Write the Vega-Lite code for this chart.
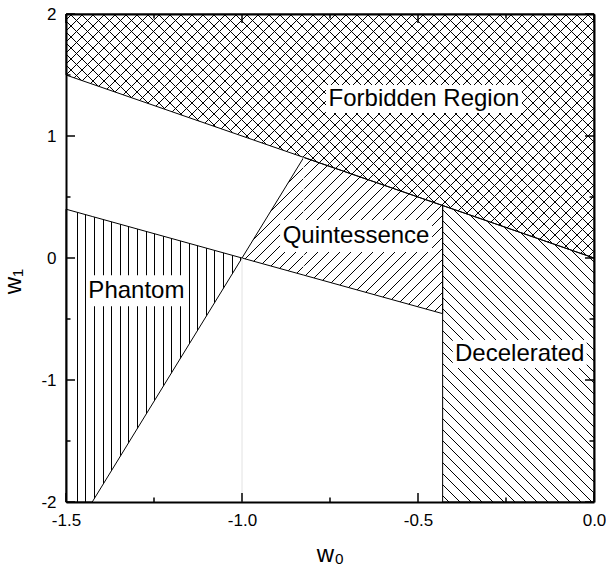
{"$schema":"https://vega.github.io/schema/vega-lite/v6.json","width":528,"height":488,"autosize":{"type":"none"},"padding":{"left":66,"top":14,"right":12,"bottom":78},"background":"white",
"datasets":{
"regions":[
{"region":"Forbidden","x":-1.5,"y":2,"y2":1.5},{"region":"Forbidden","x":0,"y":2,"y2":0},
{"region":"Quintessence","x":-1,"y":0,"y2":0},{"region":"Quintessence","x":-0.8246,"y":0.8246,"y2":-0.14032},{"region":"Quintessence","x":-0.43,"y":0.43,"y2":-0.456},
{"region":"Decelerated","x":-0.43,"y":0.43,"y2":-2},{"region":"Decelerated","x":0,"y":0,"y2":-2},
{"region":"Phantom","x":-1.5,"y":0.4,"y2":-2},{"region":"Phantom","x":-1.4255,"y":0.3404,"y2":-2},{"region":"Phantom","x":-1,"y":0,"y2":0}],
"labels":[
{"label":"Forbidden Region","x":-0.483,"y":1.303},{"label":"Quintessence","x":-0.676,"y":0.18},{"label":"Phantom","x":-1.3,"y":-0.269},{"label":"Decelerated","x":-0.211,"y":-0.787}],
"lines":[{"kind":"gap","x":-0.8246,"y":0.8246,"y2":-0.1},{"kind":"grid","x":-1,"y":0,"y2":-2}],
"xmajor":[{"v":-1.5},{"v":-1},{"v":-0.5},{"v":0}],
"xminor":[{"v":-1.25},{"v":-0.75},{"v":-0.25}],
"ymajor":[{"v":-2},{"v":-1},{"v":0},{"v":1},{"v":2}],
"yminor":[{"v":-1.5},{"v":-0.5},{"v":0.5},{"v":1.5}]},
"config":{"view":{"stroke":null},"locale":{"number":{"decimal":".","thousands":",","grouping":[3],"currency":["",""],"minus":"-"}},
"axis":{"grid":false,"domainColor":"black","domainWidth":2,"labelColor":"black","labelFont":"Liberation Sans","labelFontSize":17,"titleColor":"black","titleFont":"Liberation Sans","titleFontSize":24,"titleFontWeight":"normal","labelFlush":false,"labelOverlap":false}},
"resolve":{"axis":{"x":"independent","y":"independent"}},
"layer":[
{"data":{"name":"regions"},"transform":[{"filter":"datum.region==='Forbidden'"}],
"mark":{"type":"area","stroke":"black","strokeWidth":1,"opacity":1,"fill":{"gradient":"linear","x1":0,"y1":0,"x2":1.716718,"y2":0.793332,"stops":[
{"offset":0.005,"color":"#0000"},{"offset":0.005,"color":"#000"},{"offset":0.00591,"color":"#000"},{"offset":0.00591,"color":"#0000"},
{"offset":0.015,"color":"#0000"},{"offset":0.015,"color":"#000"},{"offset":0.01591,"color":"#000"},{"offset":0.01591,"color":"#0000"},
{"offset":0.025,"color":"#0000"},{"offset":0.025,"color":"#000"},{"offset":0.02591,"color":"#000"},{"offset":0.02591,"color":"#0000"},
{"offset":0.035,"color":"#0000"},{"offset":0.035,"color":"#000"},{"offset":0.03591,"color":"#000"},{"offset":0.03591,"color":"#0000"},
{"offset":0.045,"color":"#0000"},{"offset":0.045,"color":"#000"},{"offset":0.04591,"color":"#000"},{"offset":0.04591,"color":"#0000"},
{"offset":0.055,"color":"#0000"},{"offset":0.055,"color":"#000"},{"offset":0.05591,"color":"#000"},{"offset":0.05591,"color":"#0000"},
{"offset":0.065,"color":"#0000"},{"offset":0.065,"color":"#000"},{"offset":0.06591,"color":"#000"},{"offset":0.06591,"color":"#0000"},
{"offset":0.075,"color":"#0000"},{"offset":0.075,"color":"#000"},{"offset":0.07591,"color":"#000"},{"offset":0.07591,"color":"#0000"},
{"offset":0.085,"color":"#0000"},{"offset":0.085,"color":"#000"},{"offset":0.08591,"color":"#000"},{"offset":0.08591,"color":"#0000"},
{"offset":0.095,"color":"#0000"},{"offset":0.095,"color":"#000"},{"offset":0.09591,"color":"#000"},{"offset":0.09591,"color":"#0000"},
{"offset":0.105,"color":"#0000"},{"offset":0.105,"color":"#000"},{"offset":0.10591,"color":"#000"},{"offset":0.10591,"color":"#0000"},
{"offset":0.115,"color":"#0000"},{"offset":0.115,"color":"#000"},{"offset":0.11591,"color":"#000"},{"offset":0.11591,"color":"#0000"},
{"offset":0.125,"color":"#0000"},{"offset":0.125,"color":"#000"},{"offset":0.12591,"color":"#000"},{"offset":0.12591,"color":"#0000"},
{"offset":0.135,"color":"#0000"},{"offset":0.135,"color":"#000"},{"offset":0.13591,"color":"#000"},{"offset":0.13591,"color":"#0000"},
{"offset":0.145,"color":"#0000"},{"offset":0.145,"color":"#000"},{"offset":0.14591,"color":"#000"},{"offset":0.14591,"color":"#0000"},
{"offset":0.155,"color":"#0000"},{"offset":0.155,"color":"#000"},{"offset":0.15591,"color":"#000"},{"offset":0.15591,"color":"#0000"},
{"offset":0.165,"color":"#0000"},{"offset":0.165,"color":"#000"},{"offset":0.16591,"color":"#000"},{"offset":0.16591,"color":"#0000"},
{"offset":0.175,"color":"#0000"},{"offset":0.175,"color":"#000"},{"offset":0.17591,"color":"#000"},{"offset":0.17591,"color":"#0000"},
{"offset":0.185,"color":"#0000"},{"offset":0.185,"color":"#000"},{"offset":0.18591,"color":"#000"},{"offset":0.18591,"color":"#0000"},
{"offset":0.195,"color":"#0000"},{"offset":0.195,"color":"#000"},{"offset":0.19591,"color":"#000"},{"offset":0.19591,"color":"#0000"},
{"offset":0.205,"color":"#0000"},{"offset":0.205,"color":"#000"},{"offset":0.20591,"color":"#000"},{"offset":0.20591,"color":"#0000"},
{"offset":0.215,"color":"#0000"},{"offset":0.215,"color":"#000"},{"offset":0.21591,"color":"#000"},{"offset":0.21591,"color":"#0000"},
{"offset":0.225,"color":"#0000"},{"offset":0.225,"color":"#000"},{"offset":0.22591,"color":"#000"},{"offset":0.22591,"color":"#0000"},
{"offset":0.235,"color":"#0000"},{"offset":0.235,"color":"#000"},{"offset":0.23591,"color":"#000"},{"offset":0.23591,"color":"#0000"},
{"offset":0.245,"color":"#0000"},{"offset":0.245,"color":"#000"},{"offset":0.24591,"color":"#000"},{"offset":0.24591,"color":"#0000"},
{"offset":0.255,"color":"#0000"},{"offset":0.255,"color":"#000"},{"offset":0.25591,"color":"#000"},{"offset":0.25591,"color":"#0000"},
{"offset":0.265,"color":"#0000"},{"offset":0.265,"color":"#000"},{"offset":0.26591,"color":"#000"},{"offset":0.26591,"color":"#0000"},
{"offset":0.275,"color":"#0000"},{"offset":0.275,"color":"#000"},{"offset":0.27591,"color":"#000"},{"offset":0.27591,"color":"#0000"},
{"offset":0.285,"color":"#0000"},{"offset":0.285,"color":"#000"},{"offset":0.28591,"color":"#000"},{"offset":0.28591,"color":"#0000"},
{"offset":0.295,"color":"#0000"},{"offset":0.295,"color":"#000"},{"offset":0.29591,"color":"#000"},{"offset":0.29591,"color":"#0000"},
{"offset":0.305,"color":"#0000"},{"offset":0.305,"color":"#000"},{"offset":0.30591,"color":"#000"},{"offset":0.30591,"color":"#0000"},
{"offset":0.315,"color":"#0000"},{"offset":0.315,"color":"#000"},{"offset":0.31591,"color":"#000"},{"offset":0.31591,"color":"#0000"},
{"offset":0.325,"color":"#0000"},{"offset":0.325,"color":"#000"},{"offset":0.32591,"color":"#000"},{"offset":0.32591,"color":"#0000"},
{"offset":0.335,"color":"#0000"},{"offset":0.335,"color":"#000"},{"offset":0.33591,"color":"#000"},{"offset":0.33591,"color":"#0000"},
{"offset":0.345,"color":"#0000"},{"offset":0.345,"color":"#000"},{"offset":0.34591,"color":"#000"},{"offset":0.34591,"color":"#0000"},
{"offset":0.355,"color":"#0000"},{"offset":0.355,"color":"#000"},{"offset":0.35591,"color":"#000"},{"offset":0.35591,"color":"#0000"},
{"offset":0.365,"color":"#0000"},{"offset":0.365,"color":"#000"},{"offset":0.36591,"color":"#000"},{"offset":0.36591,"color":"#0000"},
{"offset":0.375,"color":"#0000"},{"offset":0.375,"color":"#000"},{"offset":0.37591,"color":"#000"},{"offset":0.37591,"color":"#0000"},
{"offset":0.385,"color":"#0000"},{"offset":0.385,"color":"#000"},{"offset":0.38591,"color":"#000"},{"offset":0.38591,"color":"#0000"},
{"offset":0.395,"color":"#0000"},{"offset":0.395,"color":"#000"},{"offset":0.39591,"color":"#000"},{"offset":0.39591,"color":"#0000"},
{"offset":0.405,"color":"#0000"},{"offset":0.405,"color":"#000"},{"offset":0.40591,"color":"#000"},{"offset":0.40591,"color":"#0000"},
{"offset":0.415,"color":"#0000"},{"offset":0.415,"color":"#000"},{"offset":0.41591,"color":"#000"},{"offset":0.41591,"color":"#0000"},
{"offset":0.425,"color":"#0000"},{"offset":0.425,"color":"#000"},{"offset":0.42591,"color":"#000"},{"offset":0.42591,"color":"#0000"},
{"offset":0.435,"color":"#0000"},{"offset":0.435,"color":"#000"},{"offset":0.43591,"color":"#000"},{"offset":0.43591,"color":"#0000"},
{"offset":0.445,"color":"#0000"},{"offset":0.445,"color":"#000"},{"offset":0.44591,"color":"#000"},{"offset":0.44591,"color":"#0000"},
{"offset":0.455,"color":"#0000"},{"offset":0.455,"color":"#000"},{"offset":0.45591,"color":"#000"},{"offset":0.45591,"color":"#0000"},
{"offset":0.465,"color":"#0000"},{"offset":0.465,"color":"#000"},{"offset":0.46591,"color":"#000"},{"offset":0.46591,"color":"#0000"},
{"offset":0.475,"color":"#0000"},{"offset":0.475,"color":"#000"},{"offset":0.47591,"color":"#000"},{"offset":0.47591,"color":"#0000"},
{"offset":0.485,"color":"#0000"},{"offset":0.485,"color":"#000"},{"offset":0.48591,"color":"#000"},{"offset":0.48591,"color":"#0000"},
{"offset":0.495,"color":"#0000"},{"offset":0.495,"color":"#000"},{"offset":0.49591,"color":"#000"},{"offset":0.49591,"color":"#0000"},
{"offset":0.505,"color":"#0000"},{"offset":0.505,"color":"#000"},{"offset":0.50591,"color":"#000"},{"offset":0.50591,"color":"#0000"},
{"offset":0.515,"color":"#0000"},{"offset":0.515,"color":"#000"},{"offset":0.51591,"color":"#000"},{"offset":0.51591,"color":"#0000"},
{"offset":0.525,"color":"#0000"},{"offset":0.525,"color":"#000"},{"offset":0.52591,"color":"#000"},{"offset":0.52591,"color":"#0000"},
{"offset":0.535,"color":"#0000"},{"offset":0.535,"color":"#000"},{"offset":0.53591,"color":"#000"},{"offset":0.53591,"color":"#0000"},
{"offset":0.545,"color":"#0000"},{"offset":0.545,"color":"#000"},{"offset":0.54591,"color":"#000"},{"offset":0.54591,"color":"#0000"},
{"offset":0.555,"color":"#0000"},{"offset":0.555,"color":"#000"},{"offset":0.55591,"color":"#000"},{"offset":0.55591,"color":"#0000"},
{"offset":0.565,"color":"#0000"},{"offset":0.565,"color":"#000"},{"offset":0.56591,"color":"#000"},{"offset":0.56591,"color":"#0000"},
{"offset":0.575,"color":"#0000"},{"offset":0.575,"color":"#000"},{"offset":0.57591,"color":"#000"},{"offset":0.57591,"color":"#0000"},
{"offset":0.585,"color":"#0000"},{"offset":0.585,"color":"#000"},{"offset":0.58591,"color":"#000"},{"offset":0.58591,"color":"#0000"},
{"offset":0.595,"color":"#0000"},{"offset":0.595,"color":"#000"},{"offset":0.59591,"color":"#000"},{"offset":0.59591,"color":"#0000"},
{"offset":0.605,"color":"#0000"},{"offset":0.605,"color":"#000"},{"offset":0.60591,"color":"#000"},{"offset":0.60591,"color":"#0000"},
{"offset":0.615,"color":"#0000"},{"offset":0.615,"color":"#000"},{"offset":0.61591,"color":"#000"},{"offset":0.61591,"color":"#0000"},
{"offset":0.625,"color":"#0000"},{"offset":0.625,"color":"#000"},{"offset":0.62591,"color":"#000"},{"offset":0.62591,"color":"#0000"},
{"offset":0.635,"color":"#0000"},{"offset":0.635,"color":"#000"},{"offset":0.63591,"color":"#000"},{"offset":0.63591,"color":"#0000"},
{"offset":0.645,"color":"#0000"},{"offset":0.645,"color":"#000"},{"offset":0.64591,"color":"#000"},{"offset":0.64591,"color":"#0000"},
{"offset":0.655,"color":"#0000"},{"offset":0.655,"color":"#000"},{"offset":0.65591,"color":"#000"},{"offset":0.65591,"color":"#0000"},
{"offset":0.665,"color":"#0000"},{"offset":0.665,"color":"#000"},{"offset":0.66591,"color":"#000"},{"offset":0.66591,"color":"#0000"},
{"offset":0.675,"color":"#0000"},{"offset":0.675,"color":"#000"},{"offset":0.67591,"color":"#000"},{"offset":0.67591,"color":"#0000"},
{"offset":0.685,"color":"#0000"},{"offset":0.685,"color":"#000"},{"offset":0.68591,"color":"#000"},{"offset":0.68591,"color":"#0000"},
{"offset":0.695,"color":"#0000"},{"offset":0.695,"color":"#000"},{"offset":0.69591,"color":"#000"},{"offset":0.69591,"color":"#0000"}]}},
"encoding":{"x":{"field":"x","type":"quantitative","scale":{"domain":[-1.5,0],"nice":false,"zero":false},"axis":{"orient":"bottom","values":[-1.5,-1,-0.5,0],"format":".1f","ticks":false,"labelPadding":10,"title":"w₀","titlePadding":14}},
"y":{"field":"y","type":"quantitative","scale":{"domain":[-2,2],"nice":false,"zero":false},"axis":{"orient":"left","values":[-2,-1,0,1,2],"format":"d","ticks":false,"labelPadding":10,"title":"w₁","titlePadding":15,"titleY":267}},"y2":{"field":"y2"}}},
{"data":{"name":"regions"},"transform":[{"filter":"datum.region==='Forbidden'"}],
"mark":{"type":"area","strokeWidth":0,"opacity":1,"fill":{"gradient":"linear","x1":0,"y1":1,"x2":1.716718,"y2":0.206668,"stops":[
{"offset":0.165,"color":"#0000"},{"offset":0.165,"color":"#000"},{"offset":0.16591,"color":"#000"},{"offset":0.16591,"color":"#0000"},
{"offset":0.175,"color":"#0000"},{"offset":0.175,"color":"#000"},{"offset":0.17591,"color":"#000"},{"offset":0.17591,"color":"#0000"},
{"offset":0.185,"color":"#0000"},{"offset":0.185,"color":"#000"},{"offset":0.18591,"color":"#000"},{"offset":0.18591,"color":"#0000"},
{"offset":0.195,"color":"#0000"},{"offset":0.195,"color":"#000"},{"offset":0.19591,"color":"#000"},{"offset":0.19591,"color":"#0000"},
{"offset":0.205,"color":"#0000"},{"offset":0.205,"color":"#000"},{"offset":0.20591,"color":"#000"},{"offset":0.20591,"color":"#0000"},
{"offset":0.215,"color":"#0000"},{"offset":0.215,"color":"#000"},{"offset":0.21591,"color":"#000"},{"offset":0.21591,"color":"#0000"},
{"offset":0.225,"color":"#0000"},{"offset":0.225,"color":"#000"},{"offset":0.22591,"color":"#000"},{"offset":0.22591,"color":"#0000"},
{"offset":0.235,"color":"#0000"},{"offset":0.235,"color":"#000"},{"offset":0.23591,"color":"#000"},{"offset":0.23591,"color":"#0000"},
{"offset":0.245,"color":"#0000"},{"offset":0.245,"color":"#000"},{"offset":0.24591,"color":"#000"},{"offset":0.24591,"color":"#0000"},
{"offset":0.255,"color":"#0000"},{"offset":0.255,"color":"#000"},{"offset":0.25591,"color":"#000"},{"offset":0.25591,"color":"#0000"},
{"offset":0.265,"color":"#0000"},{"offset":0.265,"color":"#000"},{"offset":0.26591,"color":"#000"},{"offset":0.26591,"color":"#0000"},
{"offset":0.275,"color":"#0000"},{"offset":0.275,"color":"#000"},{"offset":0.27591,"color":"#000"},{"offset":0.27591,"color":"#0000"},
{"offset":0.285,"color":"#0000"},{"offset":0.285,"color":"#000"},{"offset":0.28591,"color":"#000"},{"offset":0.28591,"color":"#0000"},
{"offset":0.295,"color":"#0000"},{"offset":0.295,"color":"#000"},{"offset":0.29591,"color":"#000"},{"offset":0.29591,"color":"#0000"},
{"offset":0.305,"color":"#0000"},{"offset":0.305,"color":"#000"},{"offset":0.30591,"color":"#000"},{"offset":0.30591,"color":"#0000"},
{"offset":0.315,"color":"#0000"},{"offset":0.315,"color":"#000"},{"offset":0.31591,"color":"#000"},{"offset":0.31591,"color":"#0000"},
{"offset":0.325,"color":"#0000"},{"offset":0.325,"color":"#000"},{"offset":0.32591,"color":"#000"},{"offset":0.32591,"color":"#0000"},
{"offset":0.335,"color":"#0000"},{"offset":0.335,"color":"#000"},{"offset":0.33591,"color":"#000"},{"offset":0.33591,"color":"#0000"},
{"offset":0.345,"color":"#0000"},{"offset":0.345,"color":"#000"},{"offset":0.34591,"color":"#000"},{"offset":0.34591,"color":"#0000"},
{"offset":0.355,"color":"#0000"},{"offset":0.355,"color":"#000"},{"offset":0.35591,"color":"#000"},{"offset":0.35591,"color":"#0000"},
{"offset":0.365,"color":"#0000"},{"offset":0.365,"color":"#000"},{"offset":0.36591,"color":"#000"},{"offset":0.36591,"color":"#0000"},
{"offset":0.375,"color":"#0000"},{"offset":0.375,"color":"#000"},{"offset":0.37591,"color":"#000"},{"offset":0.37591,"color":"#0000"},
{"offset":0.385,"color":"#0000"},{"offset":0.385,"color":"#000"},{"offset":0.38591,"color":"#000"},{"offset":0.38591,"color":"#0000"},
{"offset":0.395,"color":"#0000"},{"offset":0.395,"color":"#000"},{"offset":0.39591,"color":"#000"},{"offset":0.39591,"color":"#0000"},
{"offset":0.405,"color":"#0000"},{"offset":0.405,"color":"#000"},{"offset":0.40591,"color":"#000"},{"offset":0.40591,"color":"#0000"},
{"offset":0.415,"color":"#0000"},{"offset":0.415,"color":"#000"},{"offset":0.41591,"color":"#000"},{"offset":0.41591,"color":"#0000"},
{"offset":0.425,"color":"#0000"},{"offset":0.425,"color":"#000"},{"offset":0.42591,"color":"#000"},{"offset":0.42591,"color":"#0000"},
{"offset":0.435,"color":"#0000"},{"offset":0.435,"color":"#000"},{"offset":0.43591,"color":"#000"},{"offset":0.43591,"color":"#0000"},
{"offset":0.445,"color":"#0000"},{"offset":0.445,"color":"#000"},{"offset":0.44591,"color":"#000"},{"offset":0.44591,"color":"#0000"},
{"offset":0.455,"color":"#0000"},{"offset":0.455,"color":"#000"},{"offset":0.45591,"color":"#000"},{"offset":0.45591,"color":"#0000"},
{"offset":0.465,"color":"#0000"},{"offset":0.465,"color":"#000"},{"offset":0.46591,"color":"#000"},{"offset":0.46591,"color":"#0000"},
{"offset":0.475,"color":"#0000"},{"offset":0.475,"color":"#000"},{"offset":0.47591,"color":"#000"},{"offset":0.47591,"color":"#0000"},
{"offset":0.485,"color":"#0000"},{"offset":0.485,"color":"#000"},{"offset":0.48591,"color":"#000"},{"offset":0.48591,"color":"#0000"},
{"offset":0.495,"color":"#0000"},{"offset":0.495,"color":"#000"},{"offset":0.49591,"color":"#000"},{"offset":0.49591,"color":"#0000"},
{"offset":0.505,"color":"#0000"},{"offset":0.505,"color":"#000"},{"offset":0.50591,"color":"#000"},{"offset":0.50591,"color":"#0000"},
{"offset":0.515,"color":"#0000"},{"offset":0.515,"color":"#000"},{"offset":0.51591,"color":"#000"},{"offset":0.51591,"color":"#0000"},
{"offset":0.525,"color":"#0000"},{"offset":0.525,"color":"#000"},{"offset":0.52591,"color":"#000"},{"offset":0.52591,"color":"#0000"},
{"offset":0.535,"color":"#0000"},{"offset":0.535,"color":"#000"},{"offset":0.53591,"color":"#000"},{"offset":0.53591,"color":"#0000"},
{"offset":0.545,"color":"#0000"},{"offset":0.545,"color":"#000"},{"offset":0.54591,"color":"#000"},{"offset":0.54591,"color":"#0000"},
{"offset":0.555,"color":"#0000"},{"offset":0.555,"color":"#000"},{"offset":0.55591,"color":"#000"},{"offset":0.55591,"color":"#0000"},
{"offset":0.565,"color":"#0000"},{"offset":0.565,"color":"#000"},{"offset":0.56591,"color":"#000"},{"offset":0.56591,"color":"#0000"},
{"offset":0.575,"color":"#0000"},{"offset":0.575,"color":"#000"},{"offset":0.57591,"color":"#000"},{"offset":0.57591,"color":"#0000"},
{"offset":0.585,"color":"#0000"},{"offset":0.585,"color":"#000"},{"offset":0.58591,"color":"#000"},{"offset":0.58591,"color":"#0000"},
{"offset":0.595,"color":"#0000"},{"offset":0.595,"color":"#000"},{"offset":0.59591,"color":"#000"},{"offset":0.59591,"color":"#0000"},
{"offset":0.605,"color":"#0000"},{"offset":0.605,"color":"#000"},{"offset":0.60591,"color":"#000"},{"offset":0.60591,"color":"#0000"},
{"offset":0.615,"color":"#0000"},{"offset":0.615,"color":"#000"},{"offset":0.61591,"color":"#000"},{"offset":0.61591,"color":"#0000"},
{"offset":0.625,"color":"#0000"},{"offset":0.625,"color":"#000"},{"offset":0.62591,"color":"#000"},{"offset":0.62591,"color":"#0000"},
{"offset":0.635,"color":"#0000"},{"offset":0.635,"color":"#000"},{"offset":0.63591,"color":"#000"},{"offset":0.63591,"color":"#0000"},
{"offset":0.645,"color":"#0000"},{"offset":0.645,"color":"#000"},{"offset":0.64591,"color":"#000"},{"offset":0.64591,"color":"#0000"},
{"offset":0.655,"color":"#0000"},{"offset":0.655,"color":"#000"},{"offset":0.65591,"color":"#000"},{"offset":0.65591,"color":"#0000"},
{"offset":0.665,"color":"#0000"},{"offset":0.665,"color":"#000"},{"offset":0.66591,"color":"#000"},{"offset":0.66591,"color":"#0000"},
{"offset":0.675,"color":"#0000"},{"offset":0.675,"color":"#000"},{"offset":0.67591,"color":"#000"},{"offset":0.67591,"color":"#0000"},
{"offset":0.685,"color":"#0000"},{"offset":0.685,"color":"#000"},{"offset":0.68591,"color":"#000"},{"offset":0.68591,"color":"#0000"},
{"offset":0.695,"color":"#0000"},{"offset":0.695,"color":"#000"},{"offset":0.69591,"color":"#000"},{"offset":0.69591,"color":"#0000"}]}},
"encoding":{"x":{"field":"x","type":"quantitative","axis":{"orient":"top","values":[-1.5,-1,-0.5,0],"labels":false,"ticks":false,"title":null}},
"y":{"field":"y","type":"quantitative","axis":{"orient":"right","values":[-2,-1,0,1,2],"labels":false,"ticks":false,"title":null}},"y2":{"field":"y2"}}},
{"data":{"name":"regions"},"transform":[{"filter":"datum.region==='Quintessence'"}],
"mark":{"type":"area","stroke":"black","strokeWidth":1,"opacity":1,"fill":{"gradient":"linear","x1":0,"y1":0,"x2":3.413025,"y2":2.657635,"stops":[
{"offset":0.055,"color":"#0000"},{"offset":0.055,"color":"#000"},{"offset":0.05591,"color":"#000"},{"offset":0.05591,"color":"#0000"},
{"offset":0.065,"color":"#0000"},{"offset":0.065,"color":"#000"},{"offset":0.06591,"color":"#000"},{"offset":0.06591,"color":"#0000"},
{"offset":0.075,"color":"#0000"},{"offset":0.075,"color":"#000"},{"offset":0.07591,"color":"#000"},{"offset":0.07591,"color":"#0000"},
{"offset":0.085,"color":"#0000"},{"offset":0.085,"color":"#000"},{"offset":0.08591,"color":"#000"},{"offset":0.08591,"color":"#0000"},
{"offset":0.095,"color":"#0000"},{"offset":0.095,"color":"#000"},{"offset":0.09591,"color":"#000"},{"offset":0.09591,"color":"#0000"},
{"offset":0.105,"color":"#0000"},{"offset":0.105,"color":"#000"},{"offset":0.10591,"color":"#000"},{"offset":0.10591,"color":"#0000"},
{"offset":0.115,"color":"#0000"},{"offset":0.115,"color":"#000"},{"offset":0.11591,"color":"#000"},{"offset":0.11591,"color":"#0000"},
{"offset":0.125,"color":"#0000"},{"offset":0.125,"color":"#000"},{"offset":0.12591,"color":"#000"},{"offset":0.12591,"color":"#0000"},
{"offset":0.135,"color":"#0000"},{"offset":0.135,"color":"#000"},{"offset":0.13591,"color":"#000"},{"offset":0.13591,"color":"#0000"},
{"offset":0.145,"color":"#0000"},{"offset":0.145,"color":"#000"},{"offset":0.14591,"color":"#000"},{"offset":0.14591,"color":"#0000"},
{"offset":0.155,"color":"#0000"},{"offset":0.155,"color":"#000"},{"offset":0.15591,"color":"#000"},{"offset":0.15591,"color":"#0000"},
{"offset":0.165,"color":"#0000"},{"offset":0.165,"color":"#000"},{"offset":0.16591,"color":"#000"},{"offset":0.16591,"color":"#0000"},
{"offset":0.175,"color":"#0000"},{"offset":0.175,"color":"#000"},{"offset":0.17591,"color":"#000"},{"offset":0.17591,"color":"#0000"},
{"offset":0.185,"color":"#0000"},{"offset":0.185,"color":"#000"},{"offset":0.18591,"color":"#000"},{"offset":0.18591,"color":"#0000"},
{"offset":0.195,"color":"#0000"},{"offset":0.195,"color":"#000"},{"offset":0.19591,"color":"#000"},{"offset":0.19591,"color":"#0000"},
{"offset":0.205,"color":"#0000"},{"offset":0.205,"color":"#000"},{"offset":0.20591,"color":"#000"},{"offset":0.20591,"color":"#0000"},
{"offset":0.215,"color":"#0000"},{"offset":0.215,"color":"#000"},{"offset":0.21591,"color":"#000"},{"offset":0.21591,"color":"#0000"},
{"offset":0.225,"color":"#0000"},{"offset":0.225,"color":"#000"},{"offset":0.22591,"color":"#000"},{"offset":0.22591,"color":"#0000"},
{"offset":0.235,"color":"#0000"},{"offset":0.235,"color":"#000"},{"offset":0.23591,"color":"#000"},{"offset":0.23591,"color":"#0000"},
{"offset":0.245,"color":"#0000"},{"offset":0.245,"color":"#000"},{"offset":0.24591,"color":"#000"},{"offset":0.24591,"color":"#0000"},
{"offset":0.255,"color":"#0000"},{"offset":0.255,"color":"#000"},{"offset":0.25591,"color":"#000"},{"offset":0.25591,"color":"#0000"},
{"offset":0.265,"color":"#0000"},{"offset":0.265,"color":"#000"},{"offset":0.26591,"color":"#000"},{"offset":0.26591,"color":"#0000"},
{"offset":0.275,"color":"#0000"},{"offset":0.275,"color":"#000"},{"offset":0.27591,"color":"#000"},{"offset":0.27591,"color":"#0000"},
{"offset":0.285,"color":"#0000"},{"offset":0.285,"color":"#000"},{"offset":0.28591,"color":"#000"},{"offset":0.28591,"color":"#0000"},
{"offset":0.295,"color":"#0000"},{"offset":0.295,"color":"#000"},{"offset":0.29591,"color":"#000"},{"offset":0.29591,"color":"#0000"},
{"offset":0.305,"color":"#0000"},{"offset":0.305,"color":"#000"},{"offset":0.30591,"color":"#000"},{"offset":0.30591,"color":"#0000"},
{"offset":0.315,"color":"#0000"},{"offset":0.315,"color":"#000"},{"offset":0.31591,"color":"#000"},{"offset":0.31591,"color":"#0000"}]}},
"encoding":{"x":{"field":"x","type":"quantitative","axis":null},"y":{"field":"y","type":"quantitative","axis":null},"y2":{"field":"y2"}}},
{"data":{"name":"regions"},"transform":[{"filter":"datum.region==='Decelerated'"}],
"mark":{"type":"area","stroke":"black","strokeWidth":1,"opacity":1,"fill":{"gradient":"linear","x1":0,"y1":1,"x2":1.502693,"y2":-1.943237,"stops":[
{"offset":0.005,"color":"#0000"},{"offset":0.005,"color":"#000"},{"offset":0.00591,"color":"#000"},{"offset":0.00591,"color":"#0000"},
{"offset":0.015,"color":"#0000"},{"offset":0.015,"color":"#000"},{"offset":0.01591,"color":"#000"},{"offset":0.01591,"color":"#0000"},
{"offset":0.025,"color":"#0000"},{"offset":0.025,"color":"#000"},{"offset":0.02591,"color":"#000"},{"offset":0.02591,"color":"#0000"},
{"offset":0.035,"color":"#0000"},{"offset":0.035,"color":"#000"},{"offset":0.03591,"color":"#000"},{"offset":0.03591,"color":"#0000"},
{"offset":0.045,"color":"#0000"},{"offset":0.045,"color":"#000"},{"offset":0.04591,"color":"#000"},{"offset":0.04591,"color":"#0000"},
{"offset":0.055,"color":"#0000"},{"offset":0.055,"color":"#000"},{"offset":0.05591,"color":"#000"},{"offset":0.05591,"color":"#0000"},
{"offset":0.065,"color":"#0000"},{"offset":0.065,"color":"#000"},{"offset":0.06591,"color":"#000"},{"offset":0.06591,"color":"#0000"},
{"offset":0.075,"color":"#0000"},{"offset":0.075,"color":"#000"},{"offset":0.07591,"color":"#000"},{"offset":0.07591,"color":"#0000"},
{"offset":0.085,"color":"#0000"},{"offset":0.085,"color":"#000"},{"offset":0.08591,"color":"#000"},{"offset":0.08591,"color":"#0000"},
{"offset":0.095,"color":"#0000"},{"offset":0.095,"color":"#000"},{"offset":0.09591,"color":"#000"},{"offset":0.09591,"color":"#0000"},
{"offset":0.105,"color":"#0000"},{"offset":0.105,"color":"#000"},{"offset":0.10591,"color":"#000"},{"offset":0.10591,"color":"#0000"},
{"offset":0.115,"color":"#0000"},{"offset":0.115,"color":"#000"},{"offset":0.11591,"color":"#000"},{"offset":0.11591,"color":"#0000"},
{"offset":0.125,"color":"#0000"},{"offset":0.125,"color":"#000"},{"offset":0.12591,"color":"#000"},{"offset":0.12591,"color":"#0000"},
{"offset":0.135,"color":"#0000"},{"offset":0.135,"color":"#000"},{"offset":0.13591,"color":"#000"},{"offset":0.13591,"color":"#0000"},
{"offset":0.145,"color":"#0000"},{"offset":0.145,"color":"#000"},{"offset":0.14591,"color":"#000"},{"offset":0.14591,"color":"#0000"},
{"offset":0.155,"color":"#0000"},{"offset":0.155,"color":"#000"},{"offset":0.15591,"color":"#000"},{"offset":0.15591,"color":"#0000"},
{"offset":0.165,"color":"#0000"},{"offset":0.165,"color":"#000"},{"offset":0.16591,"color":"#000"},{"offset":0.16591,"color":"#0000"},
{"offset":0.175,"color":"#0000"},{"offset":0.175,"color":"#000"},{"offset":0.17591,"color":"#000"},{"offset":0.17591,"color":"#0000"},
{"offset":0.185,"color":"#0000"},{"offset":0.185,"color":"#000"},{"offset":0.18591,"color":"#000"},{"offset":0.18591,"color":"#0000"},
{"offset":0.195,"color":"#0000"},{"offset":0.195,"color":"#000"},{"offset":0.19591,"color":"#000"},{"offset":0.19591,"color":"#0000"},
{"offset":0.205,"color":"#0000"},{"offset":0.205,"color":"#000"},{"offset":0.20591,"color":"#000"},{"offset":0.20591,"color":"#0000"},
{"offset":0.215,"color":"#0000"},{"offset":0.215,"color":"#000"},{"offset":0.21591,"color":"#000"},{"offset":0.21591,"color":"#0000"},
{"offset":0.225,"color":"#0000"},{"offset":0.225,"color":"#000"},{"offset":0.22591,"color":"#000"},{"offset":0.22591,"color":"#0000"},
{"offset":0.235,"color":"#0000"},{"offset":0.235,"color":"#000"},{"offset":0.23591,"color":"#000"},{"offset":0.23591,"color":"#0000"},
{"offset":0.245,"color":"#0000"},{"offset":0.245,"color":"#000"},{"offset":0.24591,"color":"#000"},{"offset":0.24591,"color":"#0000"},
{"offset":0.255,"color":"#0000"},{"offset":0.255,"color":"#000"},{"offset":0.25591,"color":"#000"},{"offset":0.25591,"color":"#0000"},
{"offset":0.265,"color":"#0000"},{"offset":0.265,"color":"#000"},{"offset":0.26591,"color":"#000"},{"offset":0.26591,"color":"#0000"},
{"offset":0.275,"color":"#0000"},{"offset":0.275,"color":"#000"},{"offset":0.27591,"color":"#000"},{"offset":0.27591,"color":"#0000"},
{"offset":0.285,"color":"#0000"},{"offset":0.285,"color":"#000"},{"offset":0.28591,"color":"#000"},{"offset":0.28591,"color":"#0000"},
{"offset":0.295,"color":"#0000"},{"offset":0.295,"color":"#000"},{"offset":0.29591,"color":"#000"},{"offset":0.29591,"color":"#0000"},
{"offset":0.305,"color":"#0000"},{"offset":0.305,"color":"#000"},{"offset":0.30591,"color":"#000"},{"offset":0.30591,"color":"#0000"},
{"offset":0.315,"color":"#0000"},{"offset":0.315,"color":"#000"},{"offset":0.31591,"color":"#000"},{"offset":0.31591,"color":"#0000"},
{"offset":0.325,"color":"#0000"},{"offset":0.325,"color":"#000"},{"offset":0.32591,"color":"#000"},{"offset":0.32591,"color":"#0000"},
{"offset":0.335,"color":"#0000"},{"offset":0.335,"color":"#000"},{"offset":0.33591,"color":"#000"},{"offset":0.33591,"color":"#0000"},
{"offset":0.345,"color":"#0000"},{"offset":0.345,"color":"#000"},{"offset":0.34591,"color":"#000"},{"offset":0.34591,"color":"#0000"},
{"offset":0.355,"color":"#0000"},{"offset":0.355,"color":"#000"},{"offset":0.35591,"color":"#000"},{"offset":0.35591,"color":"#0000"}]}},
"encoding":{"x":{"field":"x","type":"quantitative","axis":null},"y":{"field":"y","type":"quantitative","axis":null},"y2":{"field":"y2"}}},
{"data":{"name":"regions"},"transform":[{"filter":"datum.region==='Phantom'"}],
"mark":{"type":"area","stroke":"black","strokeWidth":1,"opacity":1,"fill":{"gradient":"linear","x1":0,"y1":0,"x2":4.886364,"y2":0,"stops":[
{"offset":0.0125,"color":"#0000"},{"offset":0.0125,"color":"#000"},{"offset":0.01367,"color":"#000"},{"offset":0.01367,"color":"#0000"},
{"offset":0.0225,"color":"#0000"},{"offset":0.0225,"color":"#000"},{"offset":0.02367,"color":"#000"},{"offset":0.02367,"color":"#0000"},
{"offset":0.0325,"color":"#0000"},{"offset":0.0325,"color":"#000"},{"offset":0.03367,"color":"#000"},{"offset":0.03367,"color":"#0000"},
{"offset":0.0425,"color":"#0000"},{"offset":0.0425,"color":"#000"},{"offset":0.04367,"color":"#000"},{"offset":0.04367,"color":"#0000"},
{"offset":0.0525,"color":"#0000"},{"offset":0.0525,"color":"#000"},{"offset":0.05367,"color":"#000"},{"offset":0.05367,"color":"#0000"},
{"offset":0.0625,"color":"#0000"},{"offset":0.0625,"color":"#000"},{"offset":0.06367,"color":"#000"},{"offset":0.06367,"color":"#0000"},
{"offset":0.0725,"color":"#0000"},{"offset":0.0725,"color":"#000"},{"offset":0.07367,"color":"#000"},{"offset":0.07367,"color":"#0000"},
{"offset":0.0825,"color":"#0000"},{"offset":0.0825,"color":"#000"},{"offset":0.08367,"color":"#000"},{"offset":0.08367,"color":"#0000"},
{"offset":0.0925,"color":"#0000"},{"offset":0.0925,"color":"#000"},{"offset":0.09367,"color":"#000"},{"offset":0.09367,"color":"#0000"},
{"offset":0.1025,"color":"#0000"},{"offset":0.1025,"color":"#000"},{"offset":0.10367,"color":"#000"},{"offset":0.10367,"color":"#0000"},
{"offset":0.1125,"color":"#0000"},{"offset":0.1125,"color":"#000"},{"offset":0.11367,"color":"#000"},{"offset":0.11367,"color":"#0000"},
{"offset":0.1225,"color":"#0000"},{"offset":0.1225,"color":"#000"},{"offset":0.12367,"color":"#000"},{"offset":0.12367,"color":"#0000"},
{"offset":0.1325,"color":"#0000"},{"offset":0.1325,"color":"#000"},{"offset":0.13367,"color":"#000"},{"offset":0.13367,"color":"#0000"},
{"offset":0.1425,"color":"#0000"},{"offset":0.1425,"color":"#000"},{"offset":0.14367,"color":"#000"},{"offset":0.14367,"color":"#0000"},
{"offset":0.1525,"color":"#0000"},{"offset":0.1525,"color":"#000"},{"offset":0.15367,"color":"#000"},{"offset":0.15367,"color":"#0000"},
{"offset":0.1625,"color":"#0000"},{"offset":0.1625,"color":"#000"},{"offset":0.16367,"color":"#000"},{"offset":0.16367,"color":"#0000"},
{"offset":0.1725,"color":"#0000"},{"offset":0.1725,"color":"#000"},{"offset":0.17367,"color":"#000"},{"offset":0.17367,"color":"#0000"},
{"offset":0.1825,"color":"#0000"},{"offset":0.1825,"color":"#000"},{"offset":0.18367,"color":"#000"},{"offset":0.18367,"color":"#0000"},
{"offset":0.1925,"color":"#0000"},{"offset":0.1925,"color":"#000"},{"offset":0.19367,"color":"#000"},{"offset":0.19367,"color":"#0000"},
{"offset":0.2025,"color":"#0000"},{"offset":0.2025,"color":"#000"},{"offset":0.20367,"color":"#000"},{"offset":0.20367,"color":"#0000"}]}},
"encoding":{"x":{"field":"x","type":"quantitative","axis":null},"y":{"field":"y","type":"quantitative","axis":null},"y2":{"field":"y2"}}},
{"data":{"name":"lines"},"mark":{"type":"rule","strokeWidth":1},
"encoding":{"x":{"field":"x","type":"quantitative","axis":null},"y":{"field":"y","type":"quantitative","axis":null},"y2":{"field":"y2"},
"color":{"field":"kind","type":"nominal","scale":{"domain":["gap","grid"],"range":["white","#e2e2e2"]},"legend":null}}},
{"data":{"name":"labels"},"transform":[{"filter":"datum.label==='Forbidden Region'"}],"mark":{"type":"point","shape":"M-1,-0.1429L1,-0.1429L1,0.1429L-1,0.1429Z","size":38416,"filled":true,"color":"white","opacity":1,"strokeWidth":0},
"encoding":{"x":{"field":"x","type":"quantitative","axis":null},"y":{"field":"y","type":"quantitative","axis":null}}},
{"data":{"name":"labels"},"transform":[{"filter":"datum.label==='Quintessence'"}],"mark":{"type":"point","shape":"M-1,-0.2105L1,-0.2105L1,0.2105L-1,0.2105Z","size":23104,"filled":true,"color":"white","opacity":1,"strokeWidth":0},
"encoding":{"x":{"field":"x","type":"quantitative","axis":null},"y":{"field":"y","type":"quantitative","axis":null}}},
{"data":{"name":"labels"},"transform":[{"filter":"datum.label==='Phantom'"}],"mark":{"type":"point","shape":"M-1,-0.31L1,-0.31L1,0.31L-1,0.31Z","size":10000,"filled":true,"color":"white","opacity":1,"strokeWidth":0},
"encoding":{"x":{"field":"x","type":"quantitative","axis":null},"y":{"field":"y","type":"quantitative","axis":null}}},
{"data":{"name":"labels"},"transform":[{"filter":"datum.label==='Decelerated'"}],"mark":{"type":"point","shape":"M-1,-0.209L1,-0.209L1,0.209L-1,0.209Z","size":17956,"filled":true,"color":"white","opacity":1,"strokeWidth":0},
"encoding":{"x":{"field":"x","type":"quantitative","axis":null},"y":{"field":"y","type":"quantitative","axis":null}}},
{"data":{"name":"labels"},"mark":{"type":"text","font":"Liberation Sans","fontSize":24,"baseline":"middle","align":"center","color":"black"},
"encoding":{"x":{"field":"x","type":"quantitative","axis":null},"y":{"field":"y","type":"quantitative","axis":null},"text":{"field":"label"}}},
{"data":{"name":"xmajor"},"mark":{"type":"rule","color":"black","strokeWidth":1.5},"encoding":{"x":{"field":"v","type":"quantitative","axis":null},"y":{"datum":-2,"axis":null},"y2":{"datum":-1.9262}}},
{"data":{"name":"xmajor"},"mark":{"type":"rule","color":"black","strokeWidth":1.5},"encoding":{"x":{"field":"v","type":"quantitative","axis":null},"y":{"datum":2,"axis":null},"y2":{"datum":1.9262}}},
{"data":{"name":"xminor"},"mark":{"type":"rule","color":"black","strokeWidth":1.5},"encoding":{"x":{"field":"v","type":"quantitative","axis":null},"y":{"datum":-2,"axis":null},"y2":{"datum":-1.9631}}},
{"data":{"name":"xminor"},"mark":{"type":"rule","color":"black","strokeWidth":1.5},"encoding":{"x":{"field":"v","type":"quantitative","axis":null},"y":{"datum":2,"axis":null},"y2":{"datum":1.9631}}},
{"data":{"name":"ymajor"},"mark":{"type":"rule","color":"black","strokeWidth":1.5},"encoding":{"y":{"field":"v","type":"quantitative","axis":null},"x":{"datum":-1.5,"axis":null},"x2":{"datum":-1.47443}}},
{"data":{"name":"ymajor"},"mark":{"type":"rule","color":"black","strokeWidth":1.5},"encoding":{"y":{"field":"v","type":"quantitative","axis":null},"x":{"datum":0,"axis":null},"x2":{"datum":-0.02557}}},
{"data":{"name":"yminor"},"mark":{"type":"rule","color":"black","strokeWidth":1.5},"encoding":{"y":{"field":"v","type":"quantitative","axis":null},"x":{"datum":-1.5,"axis":null},"x2":{"datum":-1.48722}}},
{"data":{"name":"yminor"},"mark":{"type":"rule","color":"black","strokeWidth":1.5},"encoding":{"y":{"field":"v","type":"quantitative","axis":null},"x":{"datum":0,"axis":null},"x2":{"datum":-0.01278}}}
]}
